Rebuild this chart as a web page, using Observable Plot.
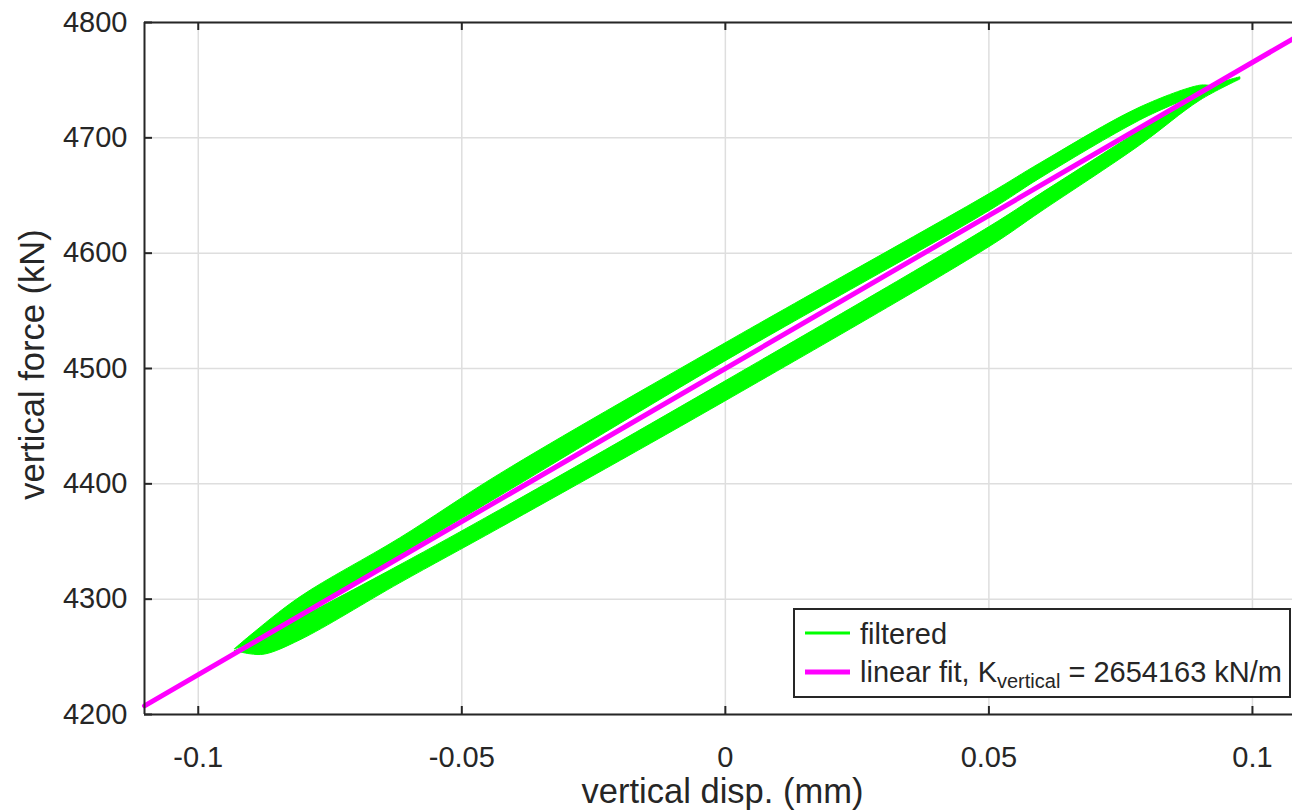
<!DOCTYPE html>
<html><head><meta charset="utf-8">
<script src="https://cdn.jsdelivr.net/npm/d3@7"></script>
<script src="https://cdn.jsdelivr.net/npm/@observablehq/plot@0.6"></script>
<style>body{margin:0;background:#fff;} #chart svg{display:block;}</style>
</head><body><div id="chart"></div>
<script>
const xTicks = [-0.1, -0.05, 0, 0.05, 0.1];
const yTicks = [4200, 4300, 4400, 4500, 4600, 4700, 4800];
const xDomain = [-0.1102, 0.1076];
const yDomain = [4200, 4800];
const xLabel = "vertical disp. (mm)";
const yLabel = "vertical force (kN)";

// filtered signal: upper branch of the hysteresis band (disp in mm, force in kN)
const upperX   = [-0.0930, -0.0901, -0.0806, -0.0617, -0.0427, 0.0, 0.0503, 0.0598, 0.0787, 0.0901, 0.0920];
const upperTop = [4256.7, 4268.0, 4301.7, 4352.7, 4408.4, 4521.7, 4651.7, 4677.8, 4726.2, 4745.2, 4745.0];
const upperBot = [4256.7, 4260.9, 4286.1, 4337.9, 4389.3, 4506.1, 4637.0, 4664.8, 4715.0, 4739.1, 4745.0];
// lower branch of the hysteresis band
const lowerX   = [-0.0930, -0.0901, -0.0873, -0.0806, -0.0617, -0.0427, 0.0, 0.0503, 0.0598, 0.0787, 0.0901, 0.0977];
const lowerTop = [4255.0, 4260.9, 4268.0, 4283.5, 4329.3, 4377.2, 4488.7, 4623.1, 4651.0, 4706.3, 4740.8, 4752.5];
const lowerBot = [4255.0, 4252.2, 4252.0, 4264.4, 4313.7, 4361.6, 4471.4, 4605.8, 4635.3, 4693.3, 4732.2, 4750.5];

// linear fit line
const fitX = [-0.1102, 0.1076];
const fitF = [4207.5, 4785.6];

const legendItems = ["filtered", "linear fit, K", "vertical", " = 2654163 kN/m"];

const green = "#00ff00", magenta = "#ff00ff", axisColor = "#262626", gridColor = "#dedede";

const upper = upperX.map((x, i) => ({x, y1: upperBot[i], y2: upperTop[i]}));
const lower = lowerX.map((x, i) => ({x, y1: lowerBot[i], y2: lowerTop[i]}));
const fit = fitX.map((x, i) => ({x, y: fitF[i]}));

const W = 1292, H = 811;
const mL = 144, mR = 0, mT = 22, mB = 97;
const plotH = H - mT - mB, plotW = W - mL - mR;

const chart = Plot.plot({
  width: W, height: H,
  marginLeft: mL, marginRight: mR, marginTop: mT, marginBottom: mB,
  style: {fontFamily: "'Liberation Sans', Arial, sans-serif", fontSize: "29px", color: axisColor, background: "white", overflow: "visible"},
  x: {domain: xDomain},
  y: {domain: yDomain},
  marks: [
    Plot.gridX(xTicks, {stroke: gridColor, strokeOpacity: 1, strokeWidth: 1.5}),
    Plot.gridY(yTicks, {stroke: gridColor, strokeOpacity: 1, strokeWidth: 1.5}),
    Plot.areaY(upper, {x: "x", y1: "y1", y2: "y2", fill: green, stroke: green, strokeWidth: 1, curve: "catmull-rom"}),
    Plot.areaY(lower, {x: "x", y1: "y1", y2: "y2", fill: green, stroke: green, strokeWidth: 1, curve: "catmull-rom"}),
    Plot.line(fit, {x: "x", y: "y", stroke: magenta, strokeWidth: 5}),
    Plot.ruleX([xDomain[0]], {stroke: axisColor, strokeWidth: 2}),
    Plot.ruleY(yDomain, {stroke: axisColor, strokeWidth: 2}),
    Plot.ruleX(xTicks, {insetTop: plotH - 8, stroke: axisColor, strokeWidth: 2}),
    Plot.ruleX(xTicks, {insetBottom: plotH - 8, stroke: axisColor, strokeWidth: 2}),
    Plot.ruleY(yTicks, {insetRight: plotW - 8, stroke: axisColor, strokeWidth: 2}),
    Plot.axisX(xTicks, {tickSize: 0, tickPadding: 32, tickFormat: d => String(d), label: null}),
    Plot.axisY(yTicks, {tickSize: 0, tickPadding: 17, tickFormat: d => String(d), label: null}),
    Plot.text([xLabel], {text: d => d, frameAnchor: "bottom", textAnchor: "middle", lineAnchor: "middle", dy: 77, dx: 4, fontSize: 34.5, fill: axisColor}),
    Plot.text([yLabel], {text: d => d, frameAnchor: "left", textAnchor: "middle", lineAnchor: "middle", dx: -112, dy: -4, rotate: -90, fontSize: 34.5, fill: axisColor})
  ]
});

// legend inside the axes (bottom-right)
const svg = d3.select(chart);
const lg = svg.append("g").attr("font-family", "'Liberation Sans', Arial, sans-serif").attr("fill", axisColor).attr("text-anchor", "start");
lg.append("rect").attr("x", 794).attr("y", 609).attr("width", 496).attr("height", 88)
  .attr("fill", "white").attr("stroke", axisColor).attr("stroke-width", 2);
lg.append("line").attr("x1", 805).attr("x2", 850).attr("y1", 633).attr("y2", 633).attr("stroke", green).attr("stroke-width", 3);
lg.append("line").attr("x1", 805).attr("x2", 850).attr("y1", 672).attr("y2", 672).attr("stroke", magenta).attr("stroke-width", 5);
lg.append("text").attr("x", 860).attr("y", 644).attr("font-size", 29).text(legendItems[0]);
const t2 = lg.append("text").attr("x", 860).attr("y", 682).attr("font-size", 29);
t2.append("tspan").text(legendItems[1]);
t2.append("tspan").attr("font-size", 20).attr("dy", 6).text(legendItems[2]);
t2.append("tspan").attr("dy", -6).text(legendItems[3]);

document.getElementById("chart").appendChild(chart);
</script>
</body></html>
